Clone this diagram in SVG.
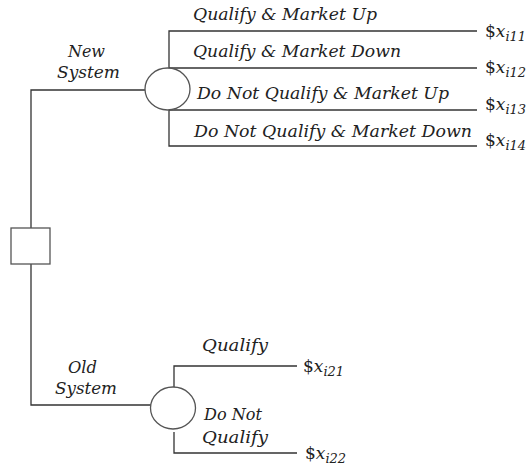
<svg xmlns="http://www.w3.org/2000/svg" width="528" height="468" viewBox="0 0 528 468">
<style>
.ln{fill:none;stroke:#333;stroke-width:1.3}
.nd{fill:#fff;stroke:#555;stroke-width:1.3}
.t{font-family:"DejaVu Serif","Liberation Serif",serif;font-style:italic;font-size:17px;fill:#222}
.v{font-family:"DejaVu Serif","Liberation Serif",serif;font-size:17px;fill:#222}
.s{font-size:13px;font-style:italic}
</style>
<rect width="528" height="468" fill="#fff"/>
<g id="connectors">
<path class="ln" d="M31,228 V90 H145"/>
<path class="ln" d="M31,264 V405 H152"/>
<path class="ln" d="M169,69 V31 H477"/>
<path class="ln" d="M169,68 H477"/>
<path class="ln" d="M169,110 H477"/>
<path class="ln" d="M169,110 V146 H477"/>
<path class="ln" d="M174,387 V366 H297"/>
<path class="ln" d="M174,432 V453 H297"/>
</g>
<g id="decision">
<rect class="nd" x="11" y="228" width="39" height="36"/>
</g>
<g id="chance-new">
<ellipse class="nd" cx="167.5" cy="89" rx="22.5" ry="21"/>
</g>
<g id="chance-old">
<ellipse class="nd" cx="173" cy="408" rx="22.5" ry="21"/>
</g>
<g id="labels">
<text class="t" x="68" y="57" textLength="37" lengthAdjust="spacingAndGlyphs">New</text>
<text class="t" x="57" y="78" textLength="63" lengthAdjust="spacingAndGlyphs">System</text>
<text class="t" x="68" y="373" textLength="29" lengthAdjust="spacingAndGlyphs">Old</text>
<text class="t" x="55" y="394" textLength="62" lengthAdjust="spacingAndGlyphs">System</text>
<text class="t" x="193" y="20" textLength="184" lengthAdjust="spacingAndGlyphs">Qualify &amp; Market Up</text>
<text class="t" x="193" y="57" textLength="208" lengthAdjust="spacingAndGlyphs">Qualify &amp; Market Down</text>
<text class="t" x="197" y="99" textLength="252" lengthAdjust="spacingAndGlyphs">Do Not Qualify  &amp; Market Up</text>
<text class="t" x="194" y="137" textLength="278" lengthAdjust="spacingAndGlyphs">Do Not Qualify  &amp; Market Down</text>
<text class="t" x="202" y="351" textLength="66" lengthAdjust="spacingAndGlyphs">Qualify</text>
<text class="t" x="204" y="420" textLength="58" lengthAdjust="spacingAndGlyphs">Do Not</text>
<text class="t" x="202" y="443" textLength="66" lengthAdjust="spacingAndGlyphs">Qualify</text>
</g>
<g id="payoffs">
<text class="v" x="485" y="37">$<tspan font-style="italic">x</tspan><tspan class="s" dy="4">i11</tspan></text>
<text class="v" x="485" y="73">$<tspan font-style="italic">x</tspan><tspan class="s" dy="4">i12</tspan></text>
<text class="v" x="485" y="110">$<tspan font-style="italic">x</tspan><tspan class="s" dy="4">i13</tspan></text>
<text class="v" x="485" y="146">$<tspan font-style="italic">x</tspan><tspan class="s" dy="4">i14</tspan></text>
<text class="v" x="303" y="372">$<tspan font-style="italic">x</tspan><tspan class="s" dy="4">i21</tspan></text>
<text class="v" x="305" y="459">$<tspan font-style="italic">x</tspan><tspan class="s" dy="4">i22</tspan></text>
</g>
</svg>
